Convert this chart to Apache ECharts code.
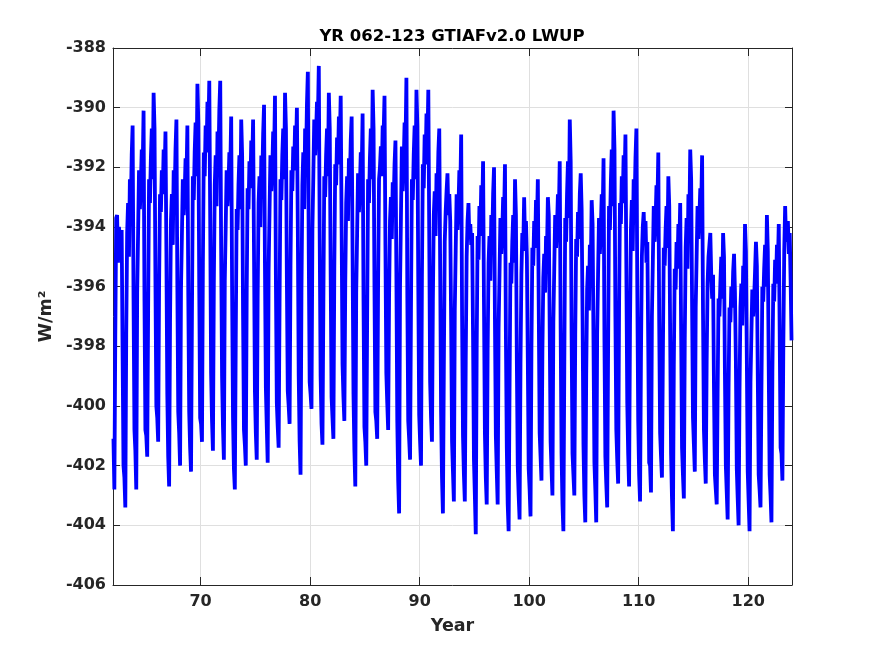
<!DOCTYPE html>
<html>

<head>
  <meta charset="utf-8" />
  <script src="https://cdn.jsdelivr.net/npm/echarts@6/dist/echarts.min.js"></script>
  <style>
    html, body { margin: 0; padding: 0; background: #fff; }
    #chart { width: 875px; height: 656px; }
  </style>
</head>

<body>
  <div id="chart"></div>
  <script>
    // monthly LWUP (W/m2), Jan..Dec of each model year
    var startYear = 62;
    var lwup60s = [
      -401.1, -402.8, -397.7, -393.7, -393.6, -395.2, -394.0, -394.3, -394.8, -394.1, -398.2, -402.0,
      -402.4, -403.4, -397.6, -394.2, -393.2, -395.0, -392.4, -393.4, -391.6, -390.6, -396.4, -400.8,
      -401.5, -402.8, -396.2, -394.2, -392.1, -393.4, -392.6, -391.4, -392.1, -390.1, -396.5, -400.8,
      -401.0, -401.7, -396.8, -392.4, -393.2, -391.7, -390.7, -392.4, -389.5, -390.7, -395.8, -400.0,
      -400.4, -401.2, -396.0, -392.9, -393.5, -392.1, -392.9, -391.4, -392.3, -390.8, -394.8, -399.6,
      -401.7, -402.7, -397.2, -393.8, -392.9, -394.6, -392.1, -393.1, -391.4, -390.4, -395.9, -400.2,
      -400.9, -402.0, -396.1, -394.3, -392.4, -393.6, -392.9, -391.7, -392.4, -390.6, -396.3, -400.2,
      -401.4, -402.2, -397.0, -392.3, -393.1, -391.5, -390.5, -392.3, -389.2, -390.5, -396.0, -400.4
    ];
    var lwup70s = [
      -400.6, -401.2, -395.2, -391.5, -392.3, -390.6, -391.5, -389.8, -390.8, -389.1, -393.7, -398.9,
      -400.5, -401.5, -395.9, -392.6, -391.6, -393.3, -390.8, -391.8, -390.1, -389.1, -394.7, -399.0,
      -400.7, -401.8, -395.8, -394.0, -392.1, -393.3, -392.6, -391.5, -392.1, -390.3, -396.1, -400.4,
      -402.1, -402.8, -397.8, -393.4, -394.1, -392.6, -391.6, -393.4, -390.4, -391.6, -396.9, -400.8,
      -401.3, -402.0, -396.2, -392.7, -393.4, -391.8, -392.7, -391.1, -392.0, -390.4, -394.8, -399.5,
      -400.9, -401.8, -396.4, -393.2, -392.3, -394.0, -391.6, -392.5, -390.9, -389.9, -395.3, -399.4,
      -400.7, -401.9, -395.5, -393.5, -391.6, -392.8, -392.1, -390.8, -391.6, -389.6, -395.8, -399.9,
      -400.7, -401.4, -396.6, -392.4, -393.1, -391.6, -390.7, -392.4, -389.5, -390.7, -395.7, -399.5,
      -400.0, -400.6, -395.3, -392.1, -392.8, -391.3, -392.1, -390.6, -391.5, -390.0, -394.0, -399.0,
      -401.2, -402.3, -396.2, -392.6, -391.5, -393.4, -390.7, -391.8, -389.9, -388.8, -394.9, -399.2
    ];
    var lwup80s = [
      -399.6, -400.1, -394.1, -392.3, -390.4, -391.6, -390.9, -389.8, -390.4, -388.6, -394.4, -399.0,
      -400.6, -401.3, -396.6, -392.3, -393.0, -391.6, -390.7, -392.3, -389.5, -390.7, -395.6, -399.7,
      -400.4, -401.1, -395.4, -391.9, -392.6, -391.0, -391.9, -390.3, -391.2, -389.6, -394.0, -398.6,
      -399.7, -400.5, -395.9, -393.2, -392.3, -393.8, -391.7, -392.5, -391.1, -390.3, -394.9, -399.6,
      -401.5, -402.7, -396.2, -394.2, -392.2, -393.5, -392.7, -391.5, -392.2, -390.2, -396.5, -400.7,
      -401.2, -402.0, -397.0, -392.4, -393.2, -391.7, -390.7, -392.4, -389.4, -390.7, -396.0, -400.2,
      -400.5, -401.1, -395.8, -392.4, -392.0, -391.3, -392.3, -390.6, -390.9, -389.6, -394.6, -398.9,
      -399.9, -400.8, -396.4, -393.8, -393.0, -394.4, -392.5, -393.2, -391.9, -391.1, -395.5, -400.5,
      -402.5, -403.6, -396.0, -393.7, -391.3, -392.8, -391.9, -390.5, -391.3, -389.0, -396.3, -400.5,
      -401.1, -401.8, -396.8, -392.4, -393.1, -391.6, -390.6, -392.4, -389.4, -390.6, -395.9, -400.3
    ];
    var lwup90s = [
      -401.2, -402.0, -395.7, -391.9, -392.7, -390.9, -391.9, -390.2, -391.2, -389.4, -394.2, -399.2,
      -400.4, -401.2, -396.5, -393.6, -392.8, -394.3, -392.2, -393.0, -391.5, -390.7, -395.4, -400.2,
      -402.4, -403.6, -398.8, -394.5, -393.5, -392.8, -392.2, -393.6, -392.9, -393.8, -397.2, -401.2,
      -402.2, -403.2, -396.8, -394.8, -392.9, -394.1, -393.4, -392.1, -392.9, -390.9, -397.0, -401.0,
      -402.3, -403.2, -398.5, -395.0, -393.8, -393.2, -394.4, -393.9, -394.6, -394.2, -397.6, -401.8,
      -403.0, -404.3, -398.1, -394.3, -395.1, -393.3, -394.3, -392.6, -393.6, -391.8, -396.6, -400.9,
      -402.4, -403.3, -398.2, -395.2, -394.3, -395.8, -393.6, -394.5, -392.9, -392.0, -397.1, -401.0,
      -402.2, -403.3, -397.4, -395.6, -393.7, -394.9, -394.2, -393.0, -393.7, -391.9, -397.6, -401.4,
      -403.3, -404.2, -399.5, -395.2, -395.9, -394.5, -393.6, -395.2, -392.4, -393.6, -398.5, -402.0,
      -403.0, -403.8, -398.6, -395.6, -394.2, -394.8, -393.0, -394.5, -393.8, -395.0, -398.4, -402.1
    ];
    var lwup100s = [
      -402.8, -403.7, -398.1, -394.7, -395.3, -393.8, -394.7, -393.1, -394.0, -392.4, -396.7, -400.9,
      -401.7, -402.5, -398.2, -395.7, -394.9, -396.2, -394.3, -394.9, -393.0, -393.6, -397.4, -401.2,
      -402.1, -403.0, -397.2, -395.4, -393.6, -394.7, -394.0, -392.9, -393.6, -391.8, -397.4, -401.6,
      -403.3, -404.2, -398.7, -393.7, -394.5, -392.9, -391.8, -393.7, -390.4, -391.8, -397.6, -401.6,
      -402.3, -403.0, -397.6, -394.4, -395.0, -393.5, -394.4, -392.9, -392.2, -393.4, -397.0, -401.3,
      -403.0, -403.9, -399.0, -396.1, -395.3, -396.8, -394.6, -395.5, -393.1, -393.9, -397.9, -401.9,
      -402.8, -403.9, -397.6, -395.6, -393.7, -394.9, -394.1, -392.9, -393.7, -391.7, -397.8, -401.7,
      -402.6, -403.4, -398.1, -393.3, -394.1, -392.5, -391.4, -393.3, -390.1, -391.4, -397.0, -400.8,
      -401.8, -402.6, -396.8, -393.2, -393.9, -392.3, -393.2, -391.6, -392.5, -390.9, -395.4, -399.9,
      -401.6, -402.7, -397.3, -394.1, -393.1, -394.8, -392.4, -393.3, -391.7, -390.7, -396.1, -400.5
    ];
    var lwup110s = [
      -402.3, -403.2, -398.4, -395.0, -394.0, -393.5, -394.6, -393.8, -395.2, -394.5, -398.0, -401.9,
      -402.0, -402.9, -397.0, -395.2, -393.3, -394.5, -393.8, -392.6, -393.3, -391.5, -397.2, -400.9,
      -401.7, -402.4, -398.4, -394.7, -395.3, -394.1, -393.3, -394.7, -392.3, -393.3, -397.6, -401.6,
      -403.1, -404.2, -398.7, -395.4, -396.1, -394.5, -395.4, -393.9, -394.7, -393.2, -397.4, -401.4,
      -402.3, -403.1, -397.8, -394.7, -393.7, -395.4, -392.9, -393.9, -391.4, -392.4, -396.5, -400.4,
      -401.3, -402.2, -396.7, -395.0, -393.3, -394.4, -393.7, -392.7, -393.3, -391.6, -396.9, -400.8,
      -401.8, -402.6, -398.5, -395.9, -395.0, -394.6, -394.2, -395.6, -396.4, -395.6, -399.4, -402.3,
      -402.8, -403.3, -399.6, -396.4, -397.0, -395.9, -395.0, -396.4, -394.2, -395.0, -398.9, -402.0,
      -402.9, -403.8, -399.4, -396.7, -397.2, -396.0, -396.7, -395.5, -394.9, -396.2, -398.5, -402.1,
      -403.1, -404.0, -399.5, -396.7, -395.9, -397.3, -395.3, -396.1, -393.9, -394.8, -398.4, -402.2
    ];
    var lwup120s = [
      -403.2, -404.2, -399.2, -397.6, -396.1, -397.0, -396.4, -395.5, -394.5, -395.3, -399.0, -402.3,
      -402.8, -403.4, -399.5, -396.0, -396.5, -395.4, -394.6, -396.0, -393.6, -394.8, -398.7, -402.3,
      -403.0, -403.9, -398.9, -395.9, -396.5, -395.1, -395.9, -394.6, -395.3, -393.9, -397.5, -401.4,
      -401.6, -402.5, -398.0, -394.8, -393.3, -394.5, -394.0, -393.8, -394.9, -394.2, -395.8, -397.8
    ];
    var xTicks = [70, 80, 90, 100, 110, 120];
  </script>
  <script>
    var monthly = [].concat(lwup60s, lwup70s, lwup80s, lwup90s, lwup100s, lwup110s, lwup120s);
    // place each month at its mid-point on the year axis
    var seriesData = monthly.map(function (v, i) {
      return [startYear + (i + 0.5) / 12, v];
    });

    var axisColor = '#262626';
    var labelFont = { fontFamily: 'DejaVu Sans', fontWeight: 'bold', fontSize: 16, color: axisColor };
    var nameFont = { fontFamily: 'DejaVu Sans', fontWeight: 'bold', fontSize: 17.5, color: axisColor };

    var myChart = echarts.init(document.getElementById('chart'));
    var option = {
      animation: false,
      backgroundColor: '#fff',
      title: {
        text: 'YR 062-123 GTIAFv2.0 LWUP',
        left: 452,
        textAlign: 'center',
        top: 28,
        padding: 0,
        textStyle: { fontFamily: 'DejaVu Sans', fontWeight: 'bold', fontSize: 16.5, color: '#000' }
      },
      grid: { left: 113, right: 83, top: 48, bottom: 71, containLabel: false },
      xAxis: [
        {
          type: 'value', min: 62, max: 124, position: 'bottom',
          name: 'Year', nameLocation: 'middle', nameGap: 32, nameTextStyle: nameFont,
          axisLine: { onZero: false, lineStyle: { color: axisColor, width: 1 } },
          axisTick: { inside: true, length: 8, customValues: xTicks, lineStyle: { color: axisColor } },
          axisLabel: Object.assign({ margin: 9, customValues: xTicks }, labelFont),
          splitLine: { show: true, lineStyle: { color: '#dfdfdf', width: 1 } }
        },
        {
          type: 'value', min: 62, max: 124, position: 'top',
          axisLine: { onZero: false, lineStyle: { color: axisColor, width: 1 } },
          axisTick: { inside: true, length: 8, customValues: xTicks, lineStyle: { color: axisColor } },
          axisLabel: { show: false },
          splitLine: { show: false }
        }
      ],
      yAxis: [
        {
          type: 'value', min: -406, max: -388, interval: 2, position: 'left',
          name: 'W/m²', nameLocation: 'middle', nameGap: 57, nameTextStyle: nameFont,
          axisLine: { show: true, onZero: false, lineStyle: { color: axisColor, width: 1 } },
          axisTick: { show: true, inside: true, length: 7, lineStyle: { color: axisColor } },
          axisLabel: Object.assign({ margin: 7 }, labelFont),
          splitLine: { show: true, lineStyle: { color: '#dfdfdf', width: 1 } }
        },
        {
          type: 'value', min: -406, max: -388, interval: 2, position: 'right',
          axisLine: { show: true, onZero: false, lineStyle: { color: axisColor, width: 1 } },
          axisTick: { show: true, inside: true, length: 7, lineStyle: { color: axisColor } },
          axisLabel: { show: false },
          splitLine: { show: false }
        }
      ],
      series: [
        {
          name: 'LWUP',
          type: 'line',
          xAxisIndex: 0,
          yAxisIndex: 0,
          data: seriesData,
          showSymbol: false,
          symbol: 'none',
          sampling: null,
          lineStyle: { color: '#0000ff', width: 3.8, join: 'bevel' }
        }
      ]
    };
    myChart.setOption(option);
  </script>
</body>

</html>
